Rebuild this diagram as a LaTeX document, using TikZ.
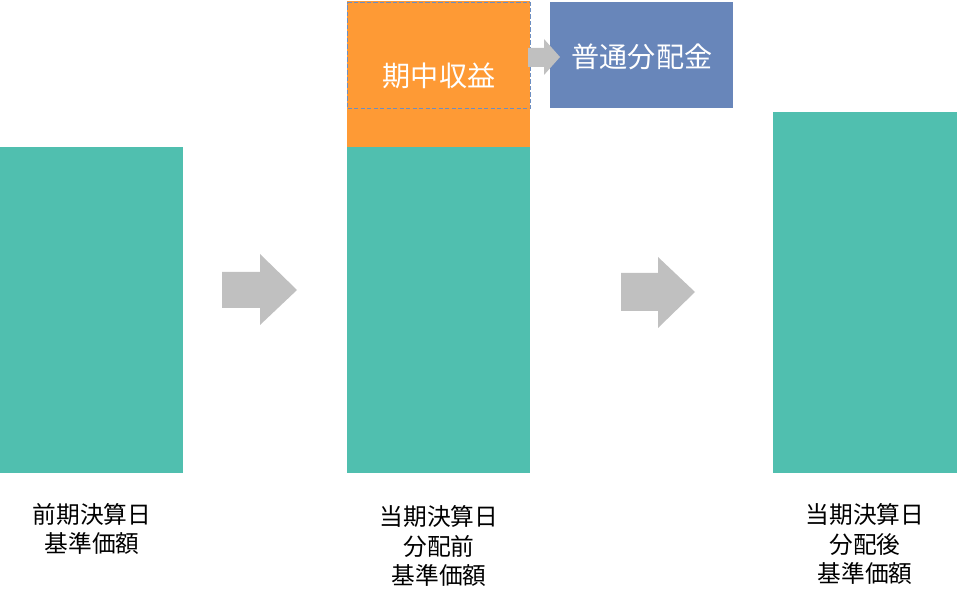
\documentclass[tikz,border=0pt]{standalone}
\usepackage{fontspec}
\setmainfont{Noto Sans CJK JP}
\usetikzlibrary{positioning}

\definecolor{navteal}{HTML}{50BFAF}
\definecolor{gainorange}{HTML}{FE9A35}
\definecolor{payblue}{HTML}{6886BA}
\definecolor{stepgray}{HTML}{C0C0C0}
\definecolor{dashblue}{HTML}{6C8EC2}

\begin{document}
\begin{tikzpicture}[
    x=0.02cm, y=-0.02cm,
    bar/.style={fill=navteal, draw=none, inner sep=0pt, anchor=north west, minimum width=3.66cm},
    box/.style={draw=none, inner sep=0pt, anchor=north west, minimum width=3.66cm, minimum height=2.12cm},
    caption/.style={align=center, font=\fontsize{13.5}{16.6}\selectfont},
    inner/.style={text=white, font=\fontsize{16}{18}\selectfont},
    blockarrow/.style={fill=stepgray, draw=none}
]
\useasboundingbox (0,0) rectangle (957,604);

% bars
\node[bar, minimum height=6.52cm] (prev) at (0,147) {};
\node[bar, fill=gainorange, minimum height=2.92cm] (gain) at (347,1) {};
\node[bar, minimum height=6.52cm] (before) at (347,147) {};
\node[bar, minimum width=3.68cm, minimum height=7.22cm] (after) at (773,112) {};

% income and payout
\node[box, draw=dashblue, line width=0.85pt, dash pattern=on 2.4pt off 1.3pt] (income) at (347,2) {};
\node[inner] (incometext) at (439,76) {期中収益};
\node[box, fill=payblue] (payout) at (550,2) {};
\node[inner] (payouttext) at (642,57) {普通分配金};

% arrows
\fill[blockarrow] (222,272) -- (260,272) -- (260,254) -- (297,290)
    -- (260,325) -- (260,308) -- (222,308) -- cycle;
\fill[blockarrow] (621,273) -- (658,273) -- (658,257) -- (695,292)
    -- (658,328) -- (658,311) -- (621,311) -- cycle;
\fill[blockarrow] (528,48) -- (544,48) -- (544,39) -- (560,57)
    -- (544,75) -- (544,67) -- (528,67) -- cycle;

% captions
\node[caption] (prevlabel) at (92,529) {前期決算日\\基準価額};
\node[caption] (beforelabel) at (439,546) {当期決算日\\分配前\\基準価額};
\node[caption] (afterlabel) at (865,544) {当期決算日\\分配後\\基準価額};
\end{tikzpicture}
\end{document}
